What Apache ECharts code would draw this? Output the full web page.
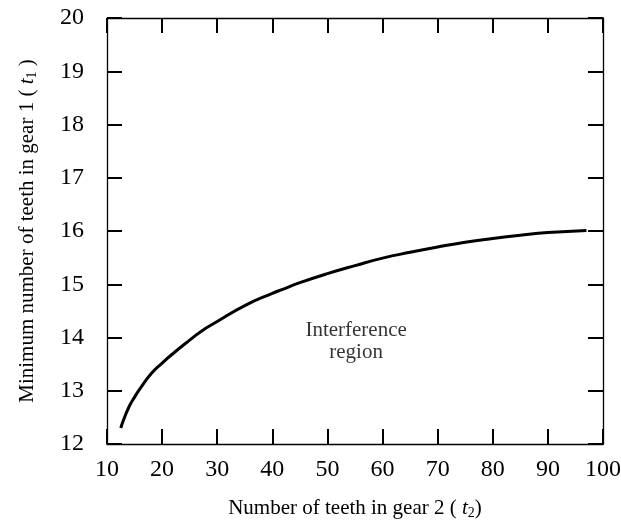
<!DOCTYPE html>
<html>
<head>
<meta charset="utf-8">
<script src="https://cdn.jsdelivr.net/npm/echarts@6/dist/echarts.min.js"></script>
<style>html,body{margin:0;padding:0;background:#fff;}#c{width:621px;height:520px;}</style>
</head>
<body>
<div id="c"></div>
<script>
// Number of teeth in gear 2 (t2)
var t2 = [12.5, 13, 14, 15, 16, 18, 20, 22, 25, 27, 30, 35, 40, 42, 45, 50, 55, 60, 65, 70, 75, 80, 85, 90, 97];
// Minimum number of teeth in gear 1 (t1)
var t1 = [12.3, 12.45, 12.7, 12.88, 13.04, 13.32, 13.52, 13.7, 13.95, 14.11, 14.3, 14.6, 14.83, 14.91, 15.03, 15.2, 15.35, 15.49, 15.6, 15.7, 15.79, 15.86, 15.92, 15.97, 16.01];
var xTicks = [10, 20, 30, 40, 50, 60, 70, 80, 90, 100];
var yTicks = [12, 13, 14, 15, 16, 17, 18, 19, 20];
var annotation = {x: 55.2, y: 13.92, text: 'Interference\nregion'};

var FONT = '"Liberation Serif","Times New Roman",serif';
var curve = t2.map(function (v, i) { return [v, t1[i]]; });

var chart = echarts.init(document.getElementById('c'));
var tickStyle = {show: true, inside: true, length: 15, lineStyle: {color: '#000', width: 2}};
var lineStyle = {show: true, lineStyle: {color: '#000', width: 1.3}};
var rich = {
  n: {fontFamily: FONT, fontSize: 21, color: '#000'},
  t: {fontFamily: FONT, fontSize: 21, fontStyle: 'italic', color: '#000'},
  s: {fontFamily: FONT, fontSize: 14, color: '#000', padding: [10, 0, 0, 0]}
};
chart.setOption({
  animation: false,
  backgroundColor: '#fff',
  grid: {left: 107, right: 18, top: 18, bottom: 76, containLabel: false, outerBoundsMode: 'none'},
  xAxis: [{
    type: 'value', min: xTicks[0], max: xTicks[xTicks.length - 1], interval: 10,
    position: 'bottom',
    axisLine: lineStyle, axisTick: tickStyle, splitLine: {show: false},
    axisLabel: {fontFamily: FONT, fontSize: 24, color: '#000', margin: 14},
    name: '{n|Number of teeth in gear 2 ( }{t|t}{s|2}{n|)}',
    nameLocation: 'middle', nameGap: 52,
    nameTextStyle: {rich: rich}
  }, {
    type: 'value', min: xTicks[0], max: xTicks[xTicks.length - 1], interval: 10,
    position: 'top',
    axisLine: lineStyle, axisTick: tickStyle, splitLine: {show: false},
    axisLabel: {show: false}
  }],
  yAxis: [{
    type: 'value', min: yTicks[0], max: yTicks[yTicks.length - 1], interval: 1,
    position: 'left',
    axisLine: lineStyle, axisTick: tickStyle, splitLine: {show: false},
    axisLabel: {fontFamily: FONT, fontSize: 24, color: '#000', margin: 23},
    name: '{n|Minimum number of teeth in gear 1 ( }{t|t}{s|1}{n| )}',
    nameLocation: 'middle', nameGap: 68, nameRotate: 90,
    nameTextStyle: {rich: rich}
  }, {
    type: 'value', min: yTicks[0], max: yTicks[yTicks.length - 1], interval: 1,
    position: 'right',
    axisLine: lineStyle, axisTick: tickStyle, splitLine: {show: false},
    axisLabel: {show: false}
  }],
  series: [{
    type: 'line', data: curve, smooth: true, showSymbol: false, symbol: 'none',
    lineStyle: {color: '#000', width: 3}
  }, {
    type: 'scatter', data: [[annotation.x, annotation.y]], symbolSize: 0,
    label: {show: true, position: 'inside', formatter: annotation.text,
      fontFamily: FONT, fontSize: 21, lineHeight: 22, color: '#000', align: 'center'}
  }]
});
</script>
</body>
</html>
